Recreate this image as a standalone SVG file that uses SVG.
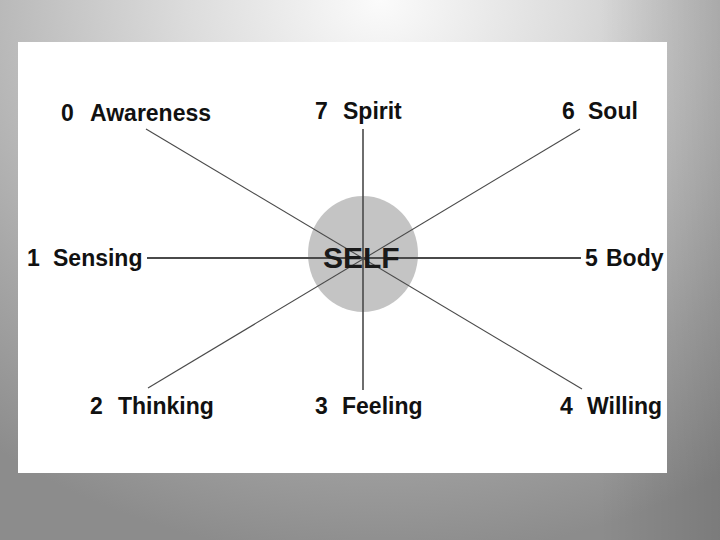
<svg xmlns="http://www.w3.org/2000/svg" width="720" height="540" viewBox="0 0 720 540">
<defs>
<radialGradient id="bg" gradientUnits="userSpaceOnUse" cx="380" cy="0" r="560" gradientTransform="translate(380 0) scale(1.15 1) translate(-380 0)">
<stop offset="0" stop-color="#fbfbfb"/>
<stop offset="0.3" stop-color="#dcdcdc"/>
<stop offset="0.75" stop-color="#a6a6a6"/>
<stop offset="1" stop-color="#8c8c8c"/>
</radialGradient>
<linearGradient id="rside" x1="0" y1="0" x2="1" y2="0">
<stop offset="0" stop-color="#000" stop-opacity="0"/>
<stop offset="1" stop-color="#000" stop-opacity="0.12"/>
</linearGradient>
<style>
.lbl{font-family:"Liberation Sans",Arial,sans-serif;font-weight:bold;font-size:23px;fill:#111}
.self{font-family:"Liberation Sans",Arial,sans-serif;font-weight:bold;font-size:30px;fill:#1a1a1a}
.diag{stroke:#4a4a4a;stroke-width:1.1;fill:none}
.hor{stroke:#4a4a4a;stroke-width:2.2;fill:none}
.ver{stroke:#4a4a4a;stroke-width:1.6;fill:none}
</style>
</defs>
<rect x="0" y="0" width="720" height="540" fill="url(#bg)"/>
<rect x="600" y="0" width="120" height="540" fill="url(#rside)"/>
<rect x="18" y="42" width="649" height="431" fill="#ffffff"/>
<g id="self">
<ellipse cx="363" cy="254" rx="55" ry="58" fill="#c4c4c4"/>
</g>
<g id="connectors">
<line class="diag" x1="146" y1="129" x2="582" y2="389"/>
<line class="diag" x1="580" y1="129" x2="148" y2="388"/>
<line class="hor" x1="147" y1="258" x2="581" y2="258"/>
<line class="ver" x1="363" y1="129" x2="363" y2="390"/>
</g>
<g id="self-label"><text class="self" x="323" y="268">SELF</text></g>
<g id="n0"><text class="lbl" x="61" y="121">0<tspan x="90">Awareness</tspan></text></g>
<g id="n7"><text class="lbl" x="315" y="119">7<tspan x="343">Spirit</tspan></text></g>
<g id="n6"><text class="lbl" x="562" y="119">6<tspan x="588">Soul</tspan></text></g>
<g id="n1"><text class="lbl" x="27" y="266">1<tspan x="53">Sensing</tspan></text></g>
<g id="n5"><text class="lbl" x="585" y="266">5<tspan x="606">Body</tspan></text></g>
<g id="n2"><text class="lbl" x="90" y="414">2<tspan x="118">Thinking</tspan></text></g>
<g id="n3"><text class="lbl" x="315" y="414">3<tspan x="342">Feeling</tspan></text></g>
<g id="n4"><text class="lbl" x="560" y="414">4<tspan x="587">Willing</tspan></text></g>
</svg>
